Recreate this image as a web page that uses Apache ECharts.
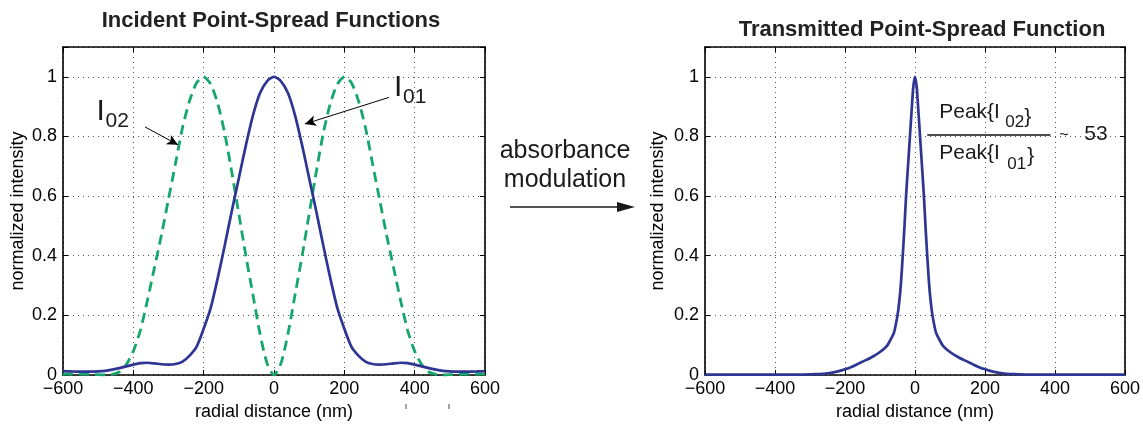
<!DOCTYPE html>
<html>
<head>
<meta charset="utf-8">
<title>Point-spread functions</title>
<script src="https://cdn.jsdelivr.net/npm/echarts@6/dist/echarts.min.js"></script>
<style>
  html, body { margin: 0; padding: 0; background: #fff; }
  #chart { width: 1143px; height: 426px; }
</style>
</head>
<body>
<div id="chart"></div>
<script>
// radial positions (nm) for the incident PSFs
const radialNm = [
  -600, -580, -560, -540, -520, -500, -480, -460, -440, -420, -400, -380, -360, -340, -320,
  -300, -280, -260, -240, -220, -200, -180, -160, -140, -120, -100, -80, -60, -40, -20,
  0,
  20, 40, 60, 80, 100, 120, 140, 160, 180, 200, 220, 240, 260, 280, 300,
  320, 340, 360, 380, 400, 420, 440, 460, 480, 500, 520, 540, 560, 580, 600
];
// I01 (solid blue)
const incidentI01 = [
  0.013, 0.012, 0.011, 0.011, 0.011, 0.012, 0.014, 0.018, 0.023, 0.029, 0.035, 0.040, 0.041, 0.039, 0.036,
  0.035, 0.037, 0.045, 0.065, 0.095, 0.155, 0.225, 0.325, 0.435, 0.550, 0.660, 0.770, 0.870, 0.945, 0.985,
  1.000,
  0.985, 0.945, 0.870, 0.770, 0.660, 0.550, 0.435, 0.325, 0.225, 0.155, 0.095, 0.065, 0.045, 0.037, 0.035,
  0.036, 0.039, 0.041, 0.040, 0.035, 0.029, 0.023, 0.018, 0.014, 0.012, 0.011, 0.011, 0.011, 0.012, 0.013
];
// I02 (dashed green doughnut)
const incidentI02 = [
  0.002, 0.003, 0.003, 0.003, 0.002, 0.001, 0.000, 0.002, 0.010, 0.035, 0.080, 0.150, 0.250, 0.360, 0.470,
  0.590, 0.710, 0.830, 0.920, 0.980, 1.000, 0.975, 0.910, 0.810, 0.680, 0.540, 0.400, 0.270, 0.140, 0.040,
  0.000,
  0.040, 0.140, 0.270, 0.400, 0.540, 0.680, 0.810, 0.910, 0.975, 1.000, 0.980, 0.920, 0.830, 0.710, 0.590,
  0.470, 0.360, 0.250, 0.150, 0.080, 0.035, 0.010, 0.002, 0.000, 0.001, 0.002, 0.003, 0.003, 0.003, 0.002
];
// transmitted PSF, denser sampling around the peak
const transmittedNm = [
  -600, -550, -500, -450, -400, -350, -300, -280, -260, -240, -220, -200, -180, -160, -140,
  -120, -100, -80, -70, -60, -50, -45, -40, -35, -30, -25, -20, -15, -10, -5,
  0,
  5, 10, 15, 20, 25, 30, 35, 40, 45, 50, 60, 70, 80, 100,
  120, 140, 160, 180, 200, 220, 240, 260, 280, 300, 350, 400, 450, 500, 550, 600
];
const transmittedI = [
  0.001, 0.001, 0.001, 0.001, 0.001, 0.001, 0.002, 0.003, 0.004, 0.007, 0.012, 0.019, 0.028, 0.039, 0.050,
  0.062, 0.077, 0.098, 0.118, 0.142, 0.200, 0.245, 0.310, 0.400, 0.500, 0.610, 0.700, 0.790, 0.880, 0.965,
  1.000,
  0.965, 0.880, 0.790, 0.700, 0.610, 0.500, 0.400, 0.310, 0.245, 0.200, 0.142, 0.118, 0.098, 0.077,
  0.062, 0.050, 0.039, 0.028, 0.019, 0.012, 0.007, 0.004, 0.003, 0.002, 0.001, 0.001, 0.001, 0.001, 0.001, 0.001
];

const xRange = [-600, 600];
const xStep = 200;
const yRange = [0, 1.1];
const yStep = 0.2;
const xTickLabels = ['\u2212600', '\u2212400', '\u2212200', '0', '200', '400', '600'];
const yTickLabels = ['0', '0.2', '0.4', '0.6', '0.8', '1'];

const FONT = '"Liberation Sans", Arial, Helvetica, sans-serif';
const BLUE = '#2e3592';
const GREEN = '#14a66c';

(function () {
  const el = document.getElementById('chart');
  const chart = echarts.init(el, null, { renderer: 'canvas' });

  function xLabel(v) {
    const i = Math.round((v - xRange[0]) / xStep);
    return xTickLabels[i] != null && Math.abs(xRange[0] + i * xStep - v) < 1e-6 ? xTickLabels[i] : '';
  }
  function yLabel(v) {
    const i = Math.round((v - yRange[0]) / yStep);
    return yTickLabels[i] != null && Math.abs(yRange[0] + i * yStep - v) < 1e-6 ? yTickLabels[i] : '';
  }

  const lineBlack = { show: true, onZero: false, lineStyle: { color: '#000', width: 1.6 } };
  const tickIn = { show: true, inside: true, length: 5, lineStyle: { color: '#000', width: 1 } };
  const dotted = { show: true, lineStyle: { color: '#555', width: 1, type: [1, 4] } };

  function xAxes(gridIndex, nameGap) {
    return [
      {
        type: 'value', gridIndex, position: 'bottom', min: xRange[0], max: xRange[1], interval: xStep,
        axisLine: lineBlack, axisTick: tickIn, splitLine: dotted,
        axisLabel: { formatter: xLabel, color: '#000', fontSize: 18, fontFamily: FONT, margin: 5 },
        name: 'radial distance (nm)', nameLocation: 'middle', nameGap,
        nameTextStyle: { color: '#000', fontSize: 18, fontFamily: FONT }
      },
      {
        type: 'value', gridIndex, position: 'top', min: xRange[0], max: xRange[1], interval: xStep,
        axisLine: lineBlack, axisTick: tickIn, splitLine: { show: false }, axisLabel: { show: false }
      }
    ];
  }
  function yAxes(gridIndex, nameGap) {
    return [
      {
        type: 'value', gridIndex, position: 'left', min: yRange[0], max: yRange[1], interval: yStep,
        axisLine: lineBlack, axisTick: tickIn, splitLine: dotted,
        axisLabel: { formatter: yLabel, color: '#000', fontSize: 18, fontFamily: FONT, margin: 6 },
        name: 'normalized intensity', nameLocation: 'middle', nameGap,
        nameTextStyle: { color: '#000', fontSize: 18, fontFamily: FONT }
      },
      {
        type: 'value', gridIndex, position: 'right', min: yRange[0], max: yRange[1], interval: yStep,
        axisLine: lineBlack, axisTick: tickIn, splitLine: { show: false }, axisLabel: { show: false }
      }
    ];
  }

  const arrowLine = {
    silent: true, animation: false, symbol: ['none', 'arrow'], symbolSize: [8, 11],
    label: { show: false }, emphasis: { disabled: true },
    lineStyle: { color: '#000', width: 1, type: 'solid' }
  };

  const option = {
    animation: false,
    backgroundColor: '#fff',
    title: [
      {
        text: 'Incident Point-Spread Functions', left: 271, top: 10, textAlign: 'center', padding: 0,
        textStyle: { fontSize: 22, fontWeight: 'bold', color: '#222', fontFamily: FONT }
      },
      {
        text: 'Transmitted Point-Spread Function', left: 922, top: 19, textAlign: 'center', padding: 0,
        textStyle: { fontSize: 22, fontWeight: 'bold', color: '#222', fontFamily: FONT }
      }
    ],
    grid: [
      { left: 63, top: 47, width: 422, height: 332 },
      { left: 705, top: 47, width: 423, height: 332 }
    ],
    xAxis: [...xAxes(0, 28), ...xAxes(1, 28)],
    yAxis: [...yAxes(0, 36), ...yAxes(1, 38)],
    series: [
      {
        name: 'I02', type: 'line', xAxisIndex: 0, yAxisIndex: 0,
        data: radialNm.map((x, i) => [x, incidentI02[i]]),
        showSymbol: false, smooth: 0.25,
        lineStyle: { color: GREEN, width: 2.8, type: [10, 6] },
        markLine: Object.assign({}, arrowLine, {
          data: [[{ coord: [-367, 0.832] }, { coord: [-273, 0.772] }]]
        })
      },
      {
        name: 'I01', type: 'line', xAxisIndex: 0, yAxisIndex: 0,
        data: radialNm.map((x, i) => [x, incidentI01[i]]),
        showSymbol: false, smooth: 0.25,
        lineStyle: { color: BLUE, width: 2.7 },
        markLine: Object.assign({}, arrowLine, {
          data: [[{ coord: [327, 0.931] }, { coord: [88, 0.842] }]]
        })
      },
      {
        name: 'transmitted', type: 'line', xAxisIndex: 2, yAxisIndex: 2,
        data: transmittedNm.map((x, i) => [x, transmittedI[i]]),
        showSymbol: false, smooth: 0.2,
        lineStyle: { color: BLUE, width: 2.7 },
        markLine: Object.assign({}, arrowLine, {
          symbol: ['none', 'none'],
          lineStyle: { color: '#111', width: 1.6, type: 'solid' },
          data: [[{ coord: [35, 0.805] }, { coord: [387, 0.805] }]]
        })
      }
    ]
  };

  chart.setOption(option);

  // annotations placed relative to data positions
  const leftPx = (pt) => chart.convertToPixel({ xAxisIndex: 0, yAxisIndex: 0 }, pt);
  const rightPx = (pt) => chart.convertToPixel({ xAxisIndex: 2, yAxisIndex: 2 }, pt);

  function txt(x, y, text, size, align) {
    return {
      type: 'text', x, y, silent: true,
      style: {
        text, font: size + 'px ' + FONT, fill: '#1a1a1a',
        align: align || 'left', verticalAlign: 'middle'
      }
    };
  }

  const i01 = leftPx([350, 0.964]);
  const i02 = leftPx([-496, 0.884]);
  const frac = rightPx([35, 0.805]);

  const graphic = [
    txt(i01[0] - 3, i01[1], 'I', 30),
    txt(i01[0] + 6, i01[1] + 10, '01', 21),
    txt(i02[0] - 3, i02[1], 'I', 30),
    txt(i02[0] + 6, i02[1] + 10, '02', 21),

    txt(frac[0] + 12, frac[1] - 23, 'Peak{I', 21),
    txt(frac[0] + 78, frac[1] - 13, '02', 17),
    txt(frac[0] + 97, frac[1] - 18, '}', 21),
    txt(frac[0] + 12, frac[1] + 18, 'Peak{I', 21),
    txt(frac[0] + 80, frac[1] + 29, '01', 17),
    txt(frac[0] + 100, frac[1] + 21, '}', 21),
    txt(frac[0] + 132, frac[1] + 1, '~', 16),
    txt(frac[0] + 157, frac[1] - 1, '53', 21),

    txt(565, 151, 'absorbance', 25, 'center'),
    txt(565, 180, 'modulation', 25, 'center'),
    {
      type: 'line', silent: true,
      shape: { x1: 510, y1: 207, x2: 620, y2: 207 },
      style: { stroke: '#1a1a1a', lineWidth: 1.5 }
    },
    {
      type: 'polygon', silent: true,
      shape: { points: [[617, 202], [635, 207], [617, 212]] },
      style: { fill: '#1a1a1a' }
    },
    // two stray tick marks under the left axis
    { type: 'line', silent: true, shape: { x1: 406, y1: 404, x2: 406, y2: 409 }, style: { stroke: '#444', lineWidth: 1 } },
    { type: 'line', silent: true, shape: { x1: 449, y1: 404, x2: 449, y2: 409 }, style: { stroke: '#444', lineWidth: 1 } }
  ];

  chart.setOption({ graphic });
})();
</script>
</body>
</html>
